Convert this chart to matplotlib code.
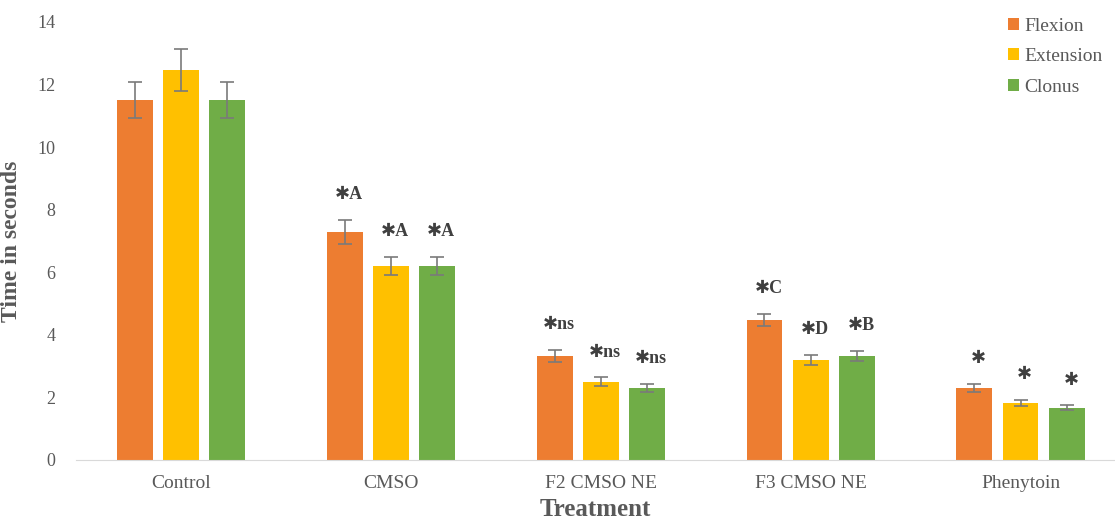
import matplotlib
matplotlib.use("Agg")
import matplotlib.pyplot as plt
import numpy as np

treatments = ["Control", "CMSO", "F2 CMSO NE", "F3 CMSO NE", "Phenytoin"]
series = ["Flexion", "Extension", "Clonus"]

flexion = [11.5, 7.3, 3.33, 4.48, 2.3]
extension = [12.47, 6.2, 2.5, 3.2, 1.82]
clonus = [11.5, 6.2, 2.3, 3.33, 1.67]

flexion_err = [0.58, 0.38, 0.19, 0.2, 0.13]
extension_err = [0.66, 0.3, 0.14, 0.17, 0.1]
clonus_err = [0.58, 0.3, 0.13, 0.17, 0.08]

flexion_sig = ["", "\u2731A", "\u2731ns", "\u2731C", "\u2731"]
extension_sig = ["", "\u2731A", "\u2731ns", "\u2731D", "\u2731"]
clonus_sig = ["", "\u2731A", "\u2731ns", "\u2731B", "\u2731"]

colors = ["#ED7D31", "#FFC000", "#70AD47"]

values = [flexion, extension, clonus]
errors = [flexion_err, extension_err, clonus_err]
sigs = [flexion_sig, extension_sig, clonus_sig]

plt.rcParams["font.family"] = ["Liberation Serif", "DejaVu Sans"]

fig = plt.figure(figsize=(11.15, 5.19), dpi=100)
ax = fig.add_axes([76 / 1115, 59 / 519, 1 - 76 / 1115, 438 / 519])

x = np.arange(len(treatments))
width = 0.171
step = 0.22

for i, (vals, errs, sig, col, name) in enumerate(zip(values, errors, sigs, colors, series)):
    pos = x + (i - 1) * step
    ax.bar(pos, vals, width=width, color=col, label=name, zorder=2)
    ax.errorbar(pos, vals, yerr=errs, fmt="none", ecolor="#7a7a7a",
                elinewidth=1.2, capsize=5, capthick=1.2, zorder=3)
    for p, v, e, s in zip(pos, vals, errs, sig):
        if s:
            ax.text(p + 0.02, v + e + 0.8, s, ha="center", va="center",
                    fontsize=13, fontweight="bold", color="#404040")

ax.set_xlim(-0.5, 4.45)
ax.set_ylim(0, 14)
ax.set_yticks(np.arange(0, 15, 2))
ax.set_xticks(x)
ax.set_xticklabels(treatments)
ax.tick_params(axis="y", length=0, labelsize=13, colors="#595959", pad=15)
ax.tick_params(axis="x", length=0, labelsize=14, colors="#595959", pad=11)

for side in ["top", "right", "left"]:
    ax.spines[side].set_visible(False)
ax.spines["bottom"].set_color("#d9d9d9")

ax.set_ylabel("Time in seconds", fontsize=17, fontweight="bold", color="#595959")
ax.yaxis.set_label_coords(-0.052, 0.5)
ax.set_xlabel("Treatment", fontsize=18, fontweight="bold", color="#595959")
ax.xaxis.label.set_va("center")
ax.xaxis.set_label_coords(0.5, -0.112)

leg = ax.legend(loc="upper right", bbox_to_anchor=(1.005, 1.05), frameon=False,
                fontsize=14, handlelength=0.55, handleheight=0.55, handletextpad=0.3,
                labelspacing=0.7, labelcolor="#595959")

fig.savefig("out.png", dpi=100)
